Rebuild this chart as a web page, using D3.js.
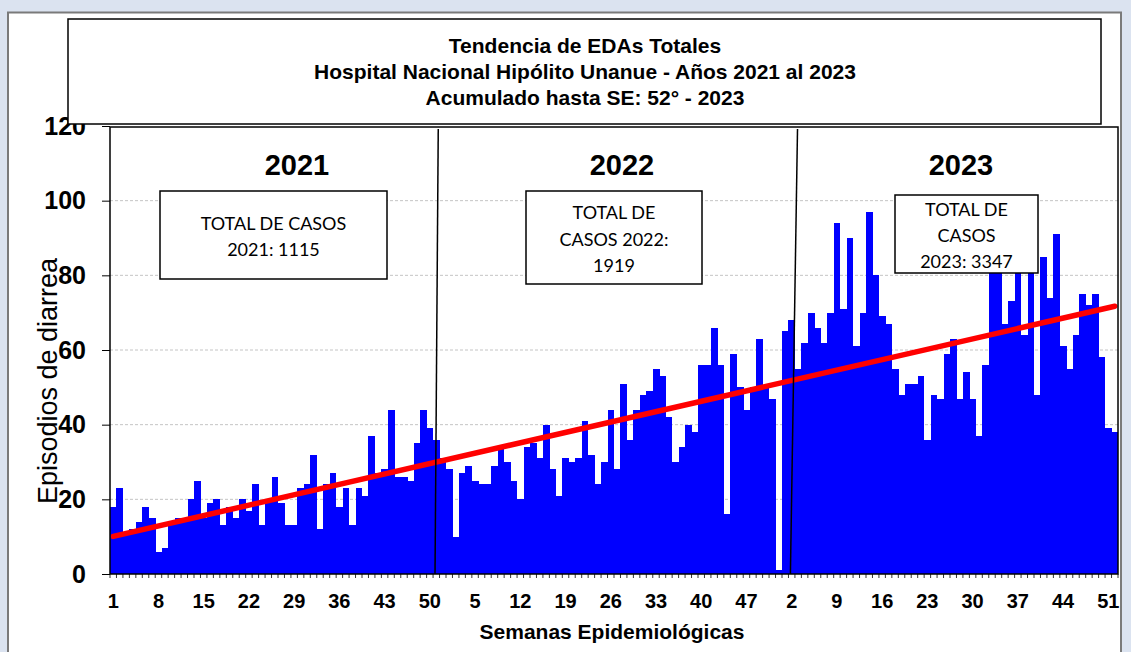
<!DOCTYPE html>
<html><head><meta charset="utf-8">
<script src="https://cdn.jsdelivr.net/npm/d3@7"></script>
<style>body{margin:0;background:#dbe3f0;} svg{display:block}</style>
</head><body><svg id="c" width="1131" height="652"></svg>
<script>
const years = ["2021", "2022", "2023"];
const values2021 = [18, 23, 11, 12, 14, 18, 15, 6, 7, 13, 15, 15, 20, 25, 15, 19, 20, 13, 18, 15, 20, 17, 24, 13, 20, 26, 19, 13, 13, 23, 24, 32, 12, 24, 27, 18, 23, 13, 23, 21, 37, 27, 28, 44, 26, 26, 25, 35, 44, 39, 36, 31];
const values2022 = [28, 10, 27, 29, 25, 24, 24, 29, 34, 30, 25, 20, 34, 35, 31, 40, 28, 21, 31, 30, 31, 41, 32, 24, 30, 44, 28, 51, 36, 44, 48, 49, 55, 53, 42, 30, 34, 40, 38, 56, 56, 66, 56, 16, 59, 50, 44, 50, 63, 50, 47, 1];
const values2023 = [65, 68, 55, 62, 70, 66, 62, 70, 94, 71, 90, 61, 70, 97, 80, 69, 67, 55, 48, 51, 51, 53, 36, 48, 47, 59, 63, 47, 54, 47, 37, 56, 90, 82, 67, 73, 83, 64, 84, 48, 85, 74, 91, 61, 55, 64, 75, 72, 75, 58, 39, 38];
const totals = [1115, 1919, 3347];
const yTicks = [0, 20, 40, 60, 80, 100, 120];
const xTickLabels = ["1","8","15","22","29","36","43","50","5","12","19","26","33","40","47","2","9","16","23","30","37","44","51"];
const titleLines = ["Tendencia de EDAs Totales", "Hospital Nacional Hipólito Unanue - Años 2021 al 2023", "Acumulado hasta SE: 52° - 2023"];
const yAxisTitle = "Episodios de diarrea";
const xAxisTitle = "Semanas Epidemiológicas";

const series = [values2021, values2022, values2023];
const data = [];
series.forEach((vals, yi) => vals.forEach((v, wi) => data.push({year: years[yi], week: wi + 1, value: v, i: data.length})));

const svg = d3.select("#c");
const W = 1131, H = 652;
const plot = {left: 110, right: 1118, top: 126, bottom: 574};
const ARIAL = "'Liberation Sans', Arial, sans-serif";

const x = d3.scaleBand().domain(data.map(d => d.i)).range([plot.left, plot.right]).padding(0);
const y = d3.scaleLinear().domain([0, 120]).range([plot.bottom, plot.top]);

// background + panel
svg.append("rect").attr("width", W).attr("height", H).attr("fill", "#dbe3f0");
svg.append("rect").attr("x", 8).attr("y", 12.5).attr("width", 1113).attr("height", 660)
  .attr("fill", "#fff").attr("stroke", "#7a7a7a").attr("stroke-width", 2);

// gridlines
svg.append("g").selectAll("line").data(yTicks.filter(t => t > 0 && t < 120)).join("line")
  .attr("x1", plot.left).attr("x2", plot.right).attr("y1", d => y(d)).attr("y2", d => y(d))
  .attr("stroke", "#c4c4c4").attr("stroke-width", 1).attr("stroke-dasharray", "3,2");

// bars
svg.append("g").selectAll("rect").data(data).join("rect")
  .attr("x", d => x(d.i)).attr("width", x.bandwidth() + 0.3)
  .attr("y", d => y(d.value)).attr("height", d => y(0) - y(d.value))
  .attr("fill", "#0000ff").attr("shape-rendering", "crispEdges");

// trend line (least squares)
const n = data.length;
const mx = d3.mean(data, d => d.i), my = d3.mean(data, d => d.value);
const slope = d3.sum(data, d => (d.i - mx) * (d.value - my)) / d3.sum(data, d => (d.i - mx) ** 2);
const icpt = my - slope * mx;
const trend = [0, n - 1].map(i => ({i, v: icpt + slope * i}));
svg.append("path").datum(trend)
  .attr("d", d3.line().x(d => x(d.i) + x.bandwidth() / 2).y(d => y(d.v)))
  .attr("stroke", "#ff0000").attr("stroke-width", 5.5).attr("stroke-linecap", "round").attr("fill", "none");

// year dividers (hand-drawn in original, slightly slanted)
const xAt = k => plot.left + k * x.step();
[[50.8, 50.3], [106.4, 105.3]].forEach(([t, b]) => {
  svg.append("line").attr("x1", xAt(t)).attr("y1", plot.top + 3).attr("x2", xAt(b)).attr("y2", plot.bottom)
    .attr("stroke", "#000").attr("stroke-width", 1.5);
});

// plot frame
svg.append("rect").attr("x", plot.left).attr("y", plot.top + 1).attr("width", plot.right - plot.left).attr("height", plot.bottom - plot.top - 1)
  .attr("fill", "none").attr("stroke", "#000").attr("stroke-width", 1.5);

// y axis
const ya = svg.append("g").attr("transform", `translate(${plot.left},0)`)
  .call(d3.axisLeft(y).tickValues(yTicks).tickSize(8).tickPadding(16));
ya.select(".domain").remove();
ya.selectAll("line").attr("stroke", "#000");
ya.selectAll("text").attr("font-family", ARIAL).attr("font-weight", "bold")
  .attr("font-size", 25).attr("fill", "#000");

// x axis minor ticks
svg.append("g").selectAll("line").data(data.concat([{i: n}])).join("line")
  .attr("x1", d => xAt(d.i)).attr("x2", d => xAt(d.i)).attr("y1", plot.bottom).attr("y2", plot.bottom + 4)
  .attr("stroke", "#000").attr("stroke-width", 0.8);

// x tick labels
const tickIdx = d3.range(0, n, 7);
svg.append("g").selectAll("text").data(tickIdx).join("text")
  .attr("x", d => x(d) + x.bandwidth() / 2).attr("y", 608)
  .attr("text-anchor", "middle").attr("font-family", ARIAL)
  .attr("font-weight", "bold").attr("font-size", 20).text((d, k) => xTickLabels[k]);

// axis titles
svg.append("text").attr("x", 612).attr("y", 639).attr("text-anchor", "middle")
  .attr("font-family", ARIAL).attr("font-weight", "bold").attr("font-size", 21)
  .text(xAxisTitle);
svg.append("text").attr("transform", "translate(57,381) rotate(-90)").attr("text-anchor", "middle")
  .attr("font-family", ARIAL).attr("font-size", 27)
  .text(yAxisTitle);

// title box
svg.append("rect").attr("x", 68).attr("y", 19).attr("width", 1033).attr("height", 105)
  .attr("fill", "#fff").attr("stroke", "#000").attr("stroke-width", 1.5);
svg.append("g").selectAll("text").data(titleLines).join("text")
  .attr("x", 585).attr("y", (d, k) => 53 + k * 26).attr("text-anchor", "middle")
  .attr("font-family", ARIAL).attr("font-weight", "bold").attr("font-size", 21)
  .text(d => d);

// year labels
const yearPos = [297, 622, 961];
svg.append("g").selectAll("text").data(years).join("text")
  .attr("x", (d, k) => yearPos[k]).attr("y", 175).attr("text-anchor", "middle")
  .attr("font-family", ARIAL).attr("font-weight", "bold").attr("font-size", 29)
  .text(d => d);

// total boxes
const boxLines = [
  ["TOTAL DE CASOS", `${years[0]}: ${totals[0]}`],
  ["TOTAL DE", `CASOS ${years[1]}:`, `${totals[1]}`],
  ["TOTAL DE", "CASOS", `${years[2]}: ${totals[2]}`]
];
const boxes = [
  {x: 160, y: 191, w: 227, h: 88, base: 230, lh: 26},
  {x: 526, y: 191, w: 176, h: 93, base: 219, lh: 26.5},
  {x: 895, y: 195, w: 143, h: 78, base: 216, lh: 26}
];
boxes.forEach((b, k) => {
  svg.append("rect").attr("x", b.x).attr("y", b.y).attr("width", b.w).attr("height", b.h)
    .attr("fill", "#fff").attr("stroke", "#000").attr("stroke-width", 1.5);
  svg.append("g").selectAll("text").data(boxLines[k]).join("text")
    .attr("x", b.x + b.w / 2).attr("y", (d, j) => b.base + j * b.lh).attr("text-anchor", "middle")
    .attr("font-family", "Lato, 'Open Sans', sans-serif").attr("font-size", 18).text(d => d);
});
</script></body></html>
